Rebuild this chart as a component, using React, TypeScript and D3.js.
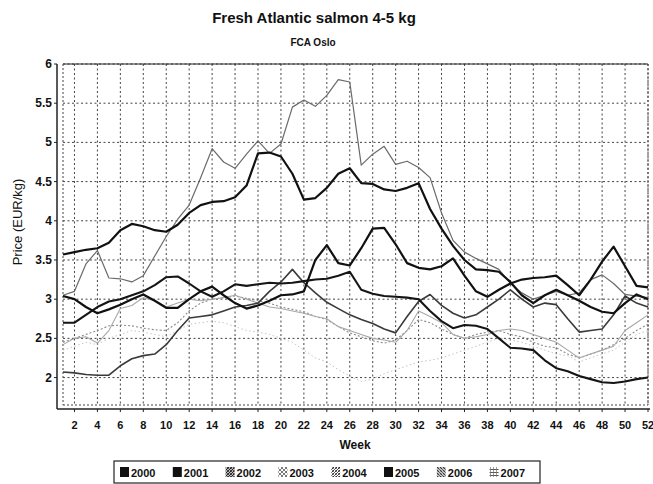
import React from "react";
import * as d3 from "d3";

const weeks = [1,2,3,4,5,6,7,8,9,10,11,12,13,14,15,16,17,18,19,20,21,22,23,24,25,26,27,28,29,30,31,32,33,34,35,36,37,38,39,40,41,42,43,44,45,46,47,48,49,50,51,52];
const years = ["2000","2001","2002","2003","2004","2005","2006","2007"];

const s2000 = [3.57,3.6,3.63,3.65,3.72,3.88,3.96,3.93,3.88,3.86,3.95,4.1,4.2,4.24,4.25,4.3,4.45,4.86,4.87,4.82,4.6,4.27,4.29,4.42,4.6,4.67,4.48,4.47,4.4,4.38,4.42,4.48,4.15,3.9,3.68,3.5,3.38,3.37,3.35,3.22,3.05,2.95,3.05,3.12,3.05,2.98,2.9,2.84,2.82,2.95,3.06,3.0];
const s2001 = [2.7,2.7,2.8,2.9,2.97,3.0,3.05,3.1,3.18,3.28,3.29,3.2,3.1,3.03,3.1,3.19,3.17,3.19,3.21,3.2,3.21,3.23,3.25,3.26,3.3,3.35,3.12,3.07,3.04,3.03,3.02,3.0,2.85,2.72,2.63,2.67,2.66,2.62,2.5,2.38,2.37,2.35,2.22,2.12,2.08,2.02,1.98,1.94,1.93,1.95,1.98,2.0];
const s2002 = [2.07,2.06,2.04,2.03,2.03,2.15,2.24,2.28,2.3,2.42,2.6,2.76,2.78,2.8,2.85,2.9,2.92,2.95,3.1,3.22,3.38,3.21,3.08,2.96,2.88,2.8,2.74,2.69,2.62,2.57,2.78,2.97,3.06,2.92,2.82,2.76,2.8,2.9,3.0,3.12,3.0,2.9,2.95,2.93,2.75,2.58,2.6,2.62,2.8,3.04,2.95,2.9];
const s2003 = [2.42,2.5,2.52,2.44,2.6,2.88,2.92,3.02,2.98,2.9,2.95,3.0,2.98,3.0,3.02,3.05,3.0,2.95,2.9,2.88,2.85,2.82,2.78,2.75,2.65,2.6,2.55,2.5,2.48,2.45,2.6,2.85,2.78,2.7,2.55,2.5,2.52,2.55,2.6,2.62,2.6,2.55,2.5,2.45,2.35,2.25,2.3,2.35,2.4,2.6,2.7,2.8];
const s2004 = [2.45,2.5,2.55,2.6,2.66,2.67,2.66,2.63,2.61,2.6,2.7,2.85,2.95,3.0,3.02,3.04,3.01,2.98,2.95,2.9,2.87,2.84,2.78,2.74,2.65,2.57,2.52,2.47,2.44,2.48,2.6,2.74,2.7,2.62,2.55,2.5,2.55,2.58,2.6,2.55,2.52,2.45,2.4,2.38,2.3,2.25,2.3,2.35,2.42,2.5,2.6,2.68];
const s2005 = [3.04,3.0,2.9,2.82,2.87,2.93,3.0,3.06,2.98,2.89,2.89,3.0,3.1,3.16,3.05,2.95,2.88,2.92,2.98,3.05,3.06,3.1,3.5,3.69,3.46,3.43,3.65,3.9,3.91,3.7,3.46,3.4,3.38,3.42,3.52,3.3,3.1,3.03,3.12,3.2,3.25,3.27,3.28,3.3,3.18,3.05,3.25,3.48,3.67,3.42,3.17,3.15];
const s2006 = [3.05,3.1,3.45,3.62,3.27,3.26,3.22,3.3,3.55,3.8,4.02,4.2,4.55,4.92,4.75,4.67,4.85,5.02,4.86,4.98,5.45,5.54,5.46,5.6,5.8,5.77,4.71,4.85,4.95,4.72,4.76,4.68,4.55,4.1,3.75,3.6,3.52,3.45,3.38,3.2,3.08,3.0,3.05,3.1,3.05,3.08,3.25,3.31,3.2,3.06,3.04,3.02];
const s2007 = [2.35,2.4,2.45,2.42,2.5,2.55,2.6,2.58,2.55,2.52,2.6,2.68,2.7,2.72,2.7,2.65,2.6,2.58,2.55,2.5,2.45,2.35,2.25,2.2,2.1,2.02,1.95,1.98,2.05,2.1,2.15,2.2,2.22,2.25,2.3,2.35,2.4,2.45,2.5,2.48,2.45,2.4,2.35,2.3,2.28,2.2,2.25,2.3,2.35,2.45,2.55,2.6];

const yTicks = [2,2.5,3,3.5,4,4.5,5,5.5,6];
const xTicks = [2,4,6,8,10,12,14,16,18,20,22,24,26,28,30,32,34,36,38,40,42,44,46,48,50,52];

const seriesValues = [s2000,s2001,s2002,s2003,s2004,s2005,s2006,s2007];

// style per year (index aligned with years)
const lineStyles = [
  { stroke: "#111", width: 2.2, dash: "" },
  { stroke: "#151515", width: 2.1, dash: "" },
  { stroke: "#3a3a3a", width: 1.6, dash: "" },
  { stroke: "#a8a8a8", width: 1.1, dash: "" },
  { stroke: "#8a8a8a", width: 1.1, dash: "2,2" },
  { stroke: "#111", width: 2.2, dash: "" },
  { stroke: "#6a6a6a", width: 1.2, dash: "" },
  { stroke: "#c4c4c4", width: 1.0, dash: "1.5,2.5" },
];
const drawOrder = [7, 4, 3, 6, 2, 1, 5, 0];
const legendFill = ["url(#pSolid)","url(#pSolid)","url(#pHatchA)","url(#pDiamond)","url(#pHatchB)","url(#pSolid)","url(#pHatchC)","url(#pHatchD)"];

const W = 653, H = 484;
const x = d3.scaleLinear().domain([1, 52]).range([63, 648]);
const y = d3.scaleLinear().domain([1.65, 6]).range([405, 64]);

export default function App() {
  const line = d3.line<number>().x((_, i) => x(weeks[i])).y((d) => y(d));
  const font = "'Liberation Sans', Arial, sans-serif";
  return (
    <svg width={W} height={H} style={{ position: "absolute", left: 0, top: 0, background: "#fff" }} fontFamily={font}>
      <defs>
        <pattern id="pSolid" width="4" height="4" patternUnits="userSpaceOnUse">
          <rect width="4" height="4" fill="#111" />
        </pattern>
        <pattern id="pHatchA" width="3" height="3" patternUnits="userSpaceOnUse">
          <rect width="3" height="3" fill="#fff" />
          <path d="M0,3 L3,0" stroke="#222" strokeWidth="1.2" />
          <path d="M0,0 L3,3" stroke="#222" strokeWidth="0.8" />
        </pattern>
        <pattern id="pDiamond" width="4" height="4" patternUnits="userSpaceOnUse">
          <rect width="4" height="4" fill="#fff" />
          <path d="M0,2 L2,0 L4,2 L2,4 Z" stroke="#555" strokeWidth="0.8" fill="none" />
        </pattern>
        <pattern id="pHatchB" width="3" height="3" patternUnits="userSpaceOnUse">
          <rect width="3" height="3" fill="#fff" />
          <path d="M0,3 L3,0" stroke="#333" strokeWidth="1" />
          <path d="M0,0 L3,3" stroke="#666" strokeWidth="0.8" />
        </pattern>
        <pattern id="pHatchC" width="3" height="3" patternUnits="userSpaceOnUse">
          <rect width="3" height="3" fill="#fff" />
          <path d="M0,0 L3,3" stroke="#333" strokeWidth="1.1" />
          <path d="M0,3 L3,0" stroke="#777" strokeWidth="0.7" />
        </pattern>
        <pattern id="pHatchD" width="3" height="3" patternUnits="userSpaceOnUse">
          <rect width="3" height="3" fill="#fff" />
          <path d="M0,1.5 L3,1.5" stroke="#444" strokeWidth="0.9" />
          <path d="M1.5,0 L1.5,3" stroke="#777" strokeWidth="0.7" />
        </pattern>
      </defs>

      {/* Title */}
      <text x={314} y={23} textAnchor="middle" fontSize={15} fontWeight="bold" fill="#111">Fresh Atlantic salmon 4-5 kg</text>
      <text x={313} y={46} textAnchor="middle" fontSize={10} fontWeight="bold" fill="#111">FCA Oslo</text>

      {/* grid */}
      {yTicks.map((t) => (
        <line key={"gy" + t} x1={x(1)} x2={x(52)} y1={y(t)} y2={y(t)} stroke="#444" strokeWidth={1} strokeDasharray="2,2.5" />
      ))}
      {xTicks.map((t) => (
        <line key={"gx" + t} x1={x(t)} x2={x(t)} y1={y(6)} y2={y(1.65)} stroke="#444" strokeWidth={1} strokeDasharray="2,2.5" />
      ))}
      {/* plot frame */}
      <line x1={x(1)} x2={x(52)} y1={y(6)} y2={y(6)} stroke="#222" strokeWidth={1.2} />
      <line x1={x(1)} x2={x(1)} y1={y(6)} y2={y(1.65)} stroke="#444" strokeWidth={1} strokeDasharray="2,2" />
      <line x1={x(1)} x2={x(52)} y1={y(1.65)} y2={y(1.65)} stroke="#444" strokeWidth={1} strokeDasharray="2,2" />
      <line x1={x(52)} x2={x(52)} y1={y(6)} y2={y(1.65)} stroke="#444" strokeWidth={1} strokeDasharray="2,2" />

      {/* axes */}
      <line x1={57} x2={57} y1={y(6)} y2={409} stroke="#222" strokeWidth={1.5} />
      <line x1={57} x2={650} y1={409} y2={409} stroke="#222" strokeWidth={1.5} />

      {/* series */}
      {drawOrder.map((k) => (
        <path key={years[k]} d={line(seriesValues[k]) || ""} fill="none" stroke={lineStyles[k].stroke}
          strokeWidth={lineStyles[k].width} strokeDasharray={lineStyles[k].dash || undefined} strokeLinejoin="round" />
      ))}

      {/* y tick labels */}
      {yTicks.map((t) => (
        <g key={"yl" + t}>
          <line x1={54} x2={57} y1={y(t)} y2={y(t)} stroke="#222" />
          <text x={52} y={y(t) + 4} textAnchor="end" fontSize={12} fontWeight="bold" fill="#111">{String(t)}</text>
        </g>
      ))}
      {/* x tick labels */}
      {xTicks.map((t) => (
        <g key={"xl" + t}>
          <line x1={x(t)} x2={x(t)} y1={409} y2={412} stroke="#222" />
          <text x={x(t)} y={429} textAnchor="middle" fontSize={11} fontWeight="bold" fill="#111">{String(t)}</text>
        </g>
      ))}

      {/* axis titles */}
      <text x={355} y={449} textAnchor="middle" fontSize={12} fontWeight="bold" fill="#111">Week</text>
      <text transform="translate(22,222) rotate(-90)" textAnchor="middle" fontSize={13} fill="#111">Price (EUR/kg)</text>

      {/* legend */}
      <rect x={114} y={461} width={426} height={22} fill="#fff" stroke="#222" strokeWidth={1.2} />
      {years.map((yr, i) => {
        const lx = 120 + i * 52.8;
        return (
          <g key={"lg" + yr}>
            <rect x={lx} y={467} width={9} height={10} fill={legendFill[i]} />
            <text x={lx + 11} y={477} fontSize={11} fontWeight="bold" fill="#111">{yr}</text>
          </g>
        );
      })}
    </svg>
  );
}
